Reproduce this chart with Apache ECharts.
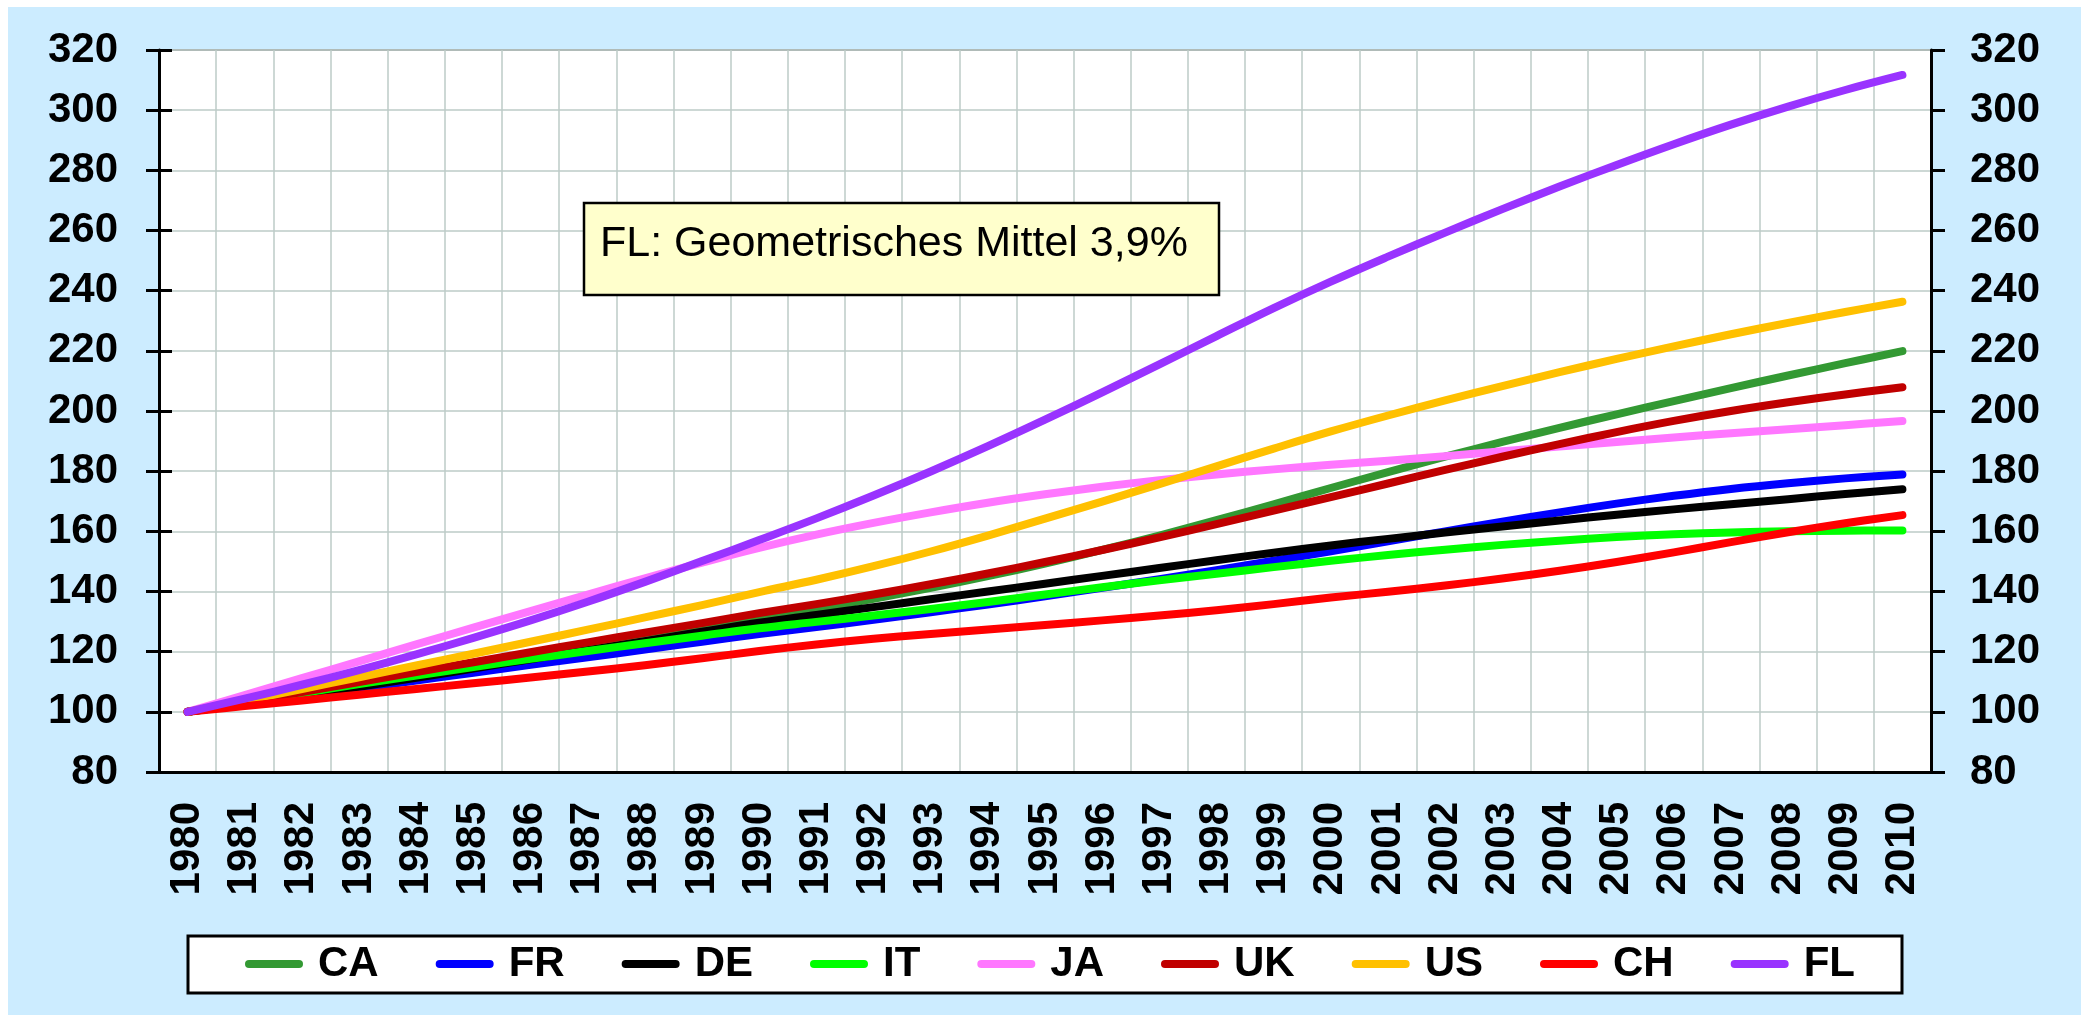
<!DOCTYPE html>
<html>
<head>
<meta charset="utf-8">
<script src="https://cdn.jsdelivr.net/npm/echarts@6/dist/echarts.min.js"></script>
<style>
html,body{margin:0;padding:0;background:#fff;}
#c{width:2081px;height:1015px;}
</style>
</head>
<body>
<div id="c"></div>
<script>
const years = ['1980','1981','1982','1983','1984','1985','1986','1987','1988','1989','1990','1991','1992','1993','1994','1995','1996','1997','1998','1999','2000','2001','2002','2003','2004','2005','2006','2007','2008','2009','2010'];
const yTicks = [80,100,120,140,160,180,200,220,240,260,280,300,320];

const CA = [100,103.1,106.3,109.4,112.5,115.7,118.8,121.9,125,128.2,131.3,134.3,137.6,141.2,145.1,149.3,153.8,158.6,163.7,169,174.4,179.7,184.8,189.7,194.4,198.9,203.3,207.6,211.8,215.9,219.9];
const FR = [100,102.6,105.2,107.8,110.4,113,115.6,118.1,120.7,123.3,125.9,128.2,130.6,133.1,135.7,138.4,141.2,144.1,147.1,150.2,153.4,156.7,160,163.2,166.3,169.2,171.8,174.1,176,177.6,178.9];
const DE = [100,102.6,105.4,108.3,111.3,114.4,117.5,120.5,123.5,126.6,129.6,132.2,134.8,137.4,140,142.6,145.2,147.8,150.4,152.9,155.3,157.5,159.6,161.6,163.6,165.5,167.3,169,170.7,172.4,174];
const IT = [100,103.2,106.2,109.2,112.1,114.9,117.6,120.2,122.8,125.3,127.8,129.9,132,134.2,136.5,139,141.4,143.7,145.9,148.1,150.2,152.1,153.9,155.5,156.9,158.1,159,159.6,160,160.2,160.3];
const JA = [100,105.6,111.2,116.8,122.4,128,133.5,139,144.4,149.6,154.5,158.9,162.8,166.3,169.5,172.3,174.8,177,178.9,180.6,182.1,183.5,185,186.6,188.2,189.7,191.2,192.6,193.9,195.3,196.7];
const UK = [100,103.3,106.6,109.9,113.2,116.5,119.8,123.1,126.3,129.5,132.8,135.8,139,142.4,146,149.8,153.8,158,162.4,166.9,171.4,175.9,180.4,184.8,189,193,196.7,200,202.9,205.5,207.9];
const US = [100,103.8,107.6,111.5,115.4,119.3,123.3,127.3,131.4,135.5,139.8,143.9,148.4,153.3,158.6,164.2,169.9,175.7,181.6,187.5,193.2,198.5,203.5,208.3,212.9,217.3,221.5,225.5,229.3,232.9,236.3];
const CH = [100,101.9,103.8,105.7,107.6,109.5,111.4,113.4,115.5,117.8,120.2,122.4,124.3,125.9,127.4,128.9,130.4,132,133.8,135.8,138,139.9,142,144.3,146.9,149.8,153,156.4,159.7,162.7,165.4];
const FL = [100,104.4,109,113.9,119.1,124.6,130.4,136.6,143.2,150.1,157.1,164.3,171.9,179.9,188.3,197.1,206.2,215.5,224.9,234.2,243,251.3,259.3,267.1,274.6,281.8,288.7,295.2,301.2,306.7,311.7];

const seriesNames = ['CA','FR','DE','IT','JA','UK','US','CH','FL'];
const seriesData = [CA,FR,DE,IT,JA,UK,US,CH,FL];
const seriesColors = ['#339933','#0000FF','#000000','#00FF00','#FF77FF','#C00000','#FFC000','#FF0000','#9933FF'];
const noteText = 'FL: Geometrisches Mittel 3,9%';

const FONT = '"Liberation Sans", Arial, sans-serif';
const gridColor = '#bccbc7';

const chart = echarts.init(document.getElementById('c'), null, {renderer: 'canvas'});

const option = {
  animation: false,
  backgroundColor: '#ffffff',
  graphic: [
    {type: 'rect', z: -100, silent: true, shape: {x: 8, y: 7, width: 2073, height: 1008}, style: {fill: '#CCECFF'}},
    {type: 'rect', z: 1, silent: true, shape: {x: 188, y: 936, width: 1714, height: 57}, style: {fill: '#ffffff', stroke: '#000000', lineWidth: 3}},
    {type: 'rect', z: 100, silent: true, shape: {x: 584, y: 203, width: 635, height: 92}, style: {fill: '#FFFFCC', stroke: '#000000', lineWidth: 2.5}},
    {type: 'text', z: 101, silent: true, x: 600, y: 244, style: {text: noteText, fill: '#000000', fontSize: 43, fontFamily: FONT, verticalAlign: 'middle', align: 'left'}}
  ],
  grid: {left: 159, right: 150, top: 50, bottom: 243, show: true, backgroundColor: '#ffffff', borderColor: '#8a8a8a', borderWidth: 2},
  legend: {
    data: seriesNames,
    left: 245, top: 940,
    orient: 'horizontal',
    itemWidth: 58, itemHeight: 8, itemGap: 57,
    icon: 'path://M4,0 L54,0 A4,4 0 0 1 54,8 L4,8 A4,4 0 0 1 4,0 Z',
    padding: 0,
    selectedMode: false,
    textStyle: {fontFamily: FONT, fontWeight: 'bold', fontSize: 42, color: '#000', padding: [0, 0, 0, 10], lineHeight: 48}
  },
  xAxis: [
    {
      type: 'category', data: years, position: 'bottom', boundaryGap: true,
      axisLine: {onZero: false, lineStyle: {color: '#000', width: 3}},
      axisTick: {inside: false, length: 13, interval: 0, lineStyle: {color: '#000', width: 3}},
      axisLabel: {interval: 0, rotate: 90, margin: 30, fontFamily: FONT, fontWeight: 'bold', fontSize: 42, color: '#000'},
      splitLine: {show: true, interval: 0, lineStyle: {color: gridColor, width: 1.5}}
    },
    {
      type: 'category', data: years, position: 'bottom', boundaryGap: true,
      axisLine: {show: false, onZero: false},
      axisTick: {inside: true, length: 13, interval: 0, lineStyle: {color: '#000', width: 3}},
      axisLabel: {show: false},
      splitLine: {show: false}
    }
  ],
  yAxis: [
    {
      type: 'value', position: 'left', min: 80, max: 320, interval: 20,
      axisLine: {show: true, onZero: false, lineStyle: {color: '#000', width: 3}},
      axisTick: {show: true, inside: false, length: 13, lineStyle: {color: '#000', width: 3}},
      axisLabel: {margin: 41, fontFamily: FONT, fontWeight: 'bold', fontSize: 42, color: '#000'},
      splitLine: {show: true, lineStyle: {color: gridColor, width: 1.5}}
    },
    {
      type: 'value', position: 'left', min: 80, max: 320, interval: 20,
      axisLine: {show: false, onZero: false},
      axisTick: {show: true, inside: true, length: 13, lineStyle: {color: '#000', width: 3}},
      axisLabel: {show: false},
      splitLine: {show: false}
    },
    {
      type: 'value', position: 'right', min: 80, max: 320, interval: 20,
      axisLine: {show: true, onZero: false, lineStyle: {color: '#000', width: 3}},
      axisTick: {show: true, inside: false, length: 14, lineStyle: {color: '#000', width: 3}},
      axisLabel: {margin: 39, fontFamily: FONT, fontWeight: 'bold', fontSize: 42, color: '#000'},
      splitLine: {show: false}
    }
  ],
  series: seriesNames.map((n, i) => ({
    name: n, type: 'line', data: seriesData[i], xAxisIndex: 0, yAxisIndex: 0,
    smooth: 0.4, symbol: 'none', showSymbol: false,
    lineStyle: {width: 8, color: seriesColors[i], cap: 'round', join: 'round'},
    itemStyle: {color: seriesColors[i]},
    emphasis: {disabled: true},
    z: 2 + i
  }))
};
chart.setOption(option);
</script>
</body>
</html>
